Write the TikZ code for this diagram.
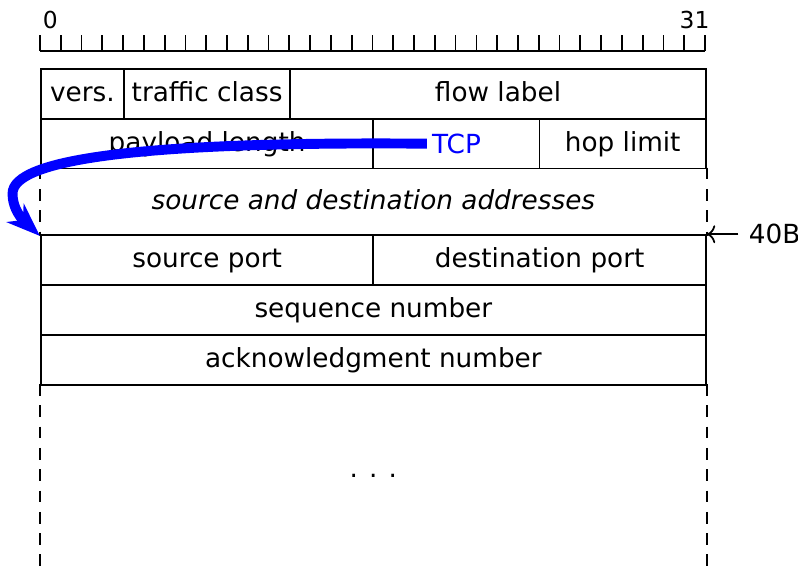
\documentclass[tikz,border=0pt]{standalone}
\usepackage{fontspec}
\setmainfont{DejaVu Sans}
\usetikzlibrary{arrows.meta,bending,positioning}
\tikzset{font=\fontsize{9}{11}\selectfont}
\tikzset{every picture/.style={line width=0.6pt}}
\tikzstyle{field}=[draw,rectangle,inner sep=0pt,anchor=north west,minimum height=0.6cm,text height=7pt,text depth=1.8pt]
\tikzstyle{openfield}=[rectangle,inner sep=0pt,anchor=north west]
\tikzstyle{gap}=[dash pattern=on 4pt off 3.3pt]
\tikzstyle{bitno}=[font=\fontsize{8}{9}\selectfont]
\begin{document}
\begin{tikzpicture}
\useasboundingbox (-0.481,-6.003) rectangle (9.119,0.818);
% bit ruler
\draw (0,0.205) -- (8,0.205);
\foreach \i in {0,...,32}
  \draw (\i*0.25,0.205) -- ++(0,0.19);
\node[bitno] (b0) at (0.125,0.58) {0};
\node[bitno] (b31) at (7.875,0.58) {31};
% IPv6 header
\node[field,minimum width=1cm] (vers) at (0,0) {vers.};
\node[field,minimum width=2cm] (tc) at (1,0) {traffic class};
\node[field,minimum width=5cm] (flow) at (3,0) {flow label};
\node[field,minimum width=4cm] (plen) at (0,-0.6) {payload length};
\node[field,minimum width=2cm] (next) at (4,-0.6) {};
\node[field,minimum width=2cm] (hop) at (6,-0.6) {hop limit};
\node[openfield,minimum width=8cm,minimum height=0.8cm,text height=7pt,text depth=1.8pt] (addr) at (0,-1.2) {\itshape source and destination addresses};
% TCP header
\node[field,minimum width=4cm] (sport) at (0,-2) {source port};
\node[field,minimum width=4cm] (dport) at (4,-2) {destination port};
\node[field,minimum width=8cm] (seq) at (0,-2.6) {sequence number};
\node[field,minimum width=8cm] (ack) at (0,-3.2) {acknowledgment number};
\node[openfield,minimum width=8cm,minimum height=2.19cm] (rest) at (0,-3.8) {. . .};
\draw[gap] (addr.north west) -- (addr.south west) (addr.north east) -- (addr.south east);
\draw[gap] (rest.north west) -- (rest.south west) (rest.north east) -- (rest.south east);
\draw (rest.south west) -- (rest.south east);
%\draw (rest.north west) -- (rest.north east);
\node[right=0.38cm of dport.north east] (len) {40B};
\draw[->] (len) -- (dport.north east);
\node[blue,inner sep=1.5pt] (tcp) at (next) {TCP};
\draw[blue,line width=3.4pt,-{Stealth[flex,length=11.5pt,width=8.5pt,inset=3.5pt]}]
  (tcp.west) .. controls (1.2,-0.88) and (-0.33,-1.1) .. (-0.33,-1.51)
  .. controls (-0.33,-1.75) and (-0.15,-1.9) .. (addr.south west);
\end{tikzpicture}
\end{document}
